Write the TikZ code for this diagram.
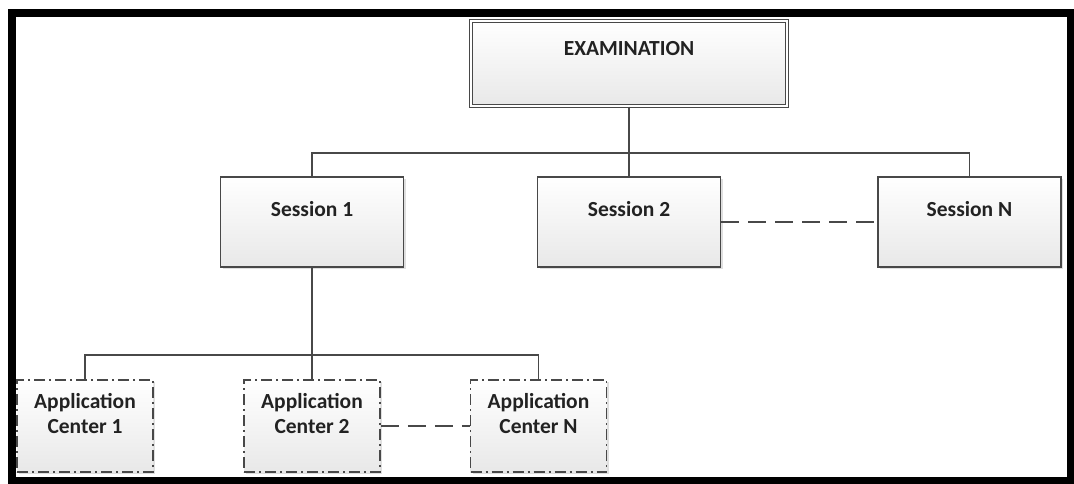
\documentclass[tikz,border=0pt]{standalone}
\usepackage{fontspec}
\setmainfont{Carlito}
\usetikzlibrary{shadows}
\definecolor{edgegray}{HTML}{484848}
\definecolor{boxbottom}{HTML}{E8E8E8}
\definecolor{labeltext}{HTML}{222222}
\begin{document}
\begin{tikzpicture}[x=1pt,y=-1pt,
  box/.style={draw=edgegray, line width=1.6pt, top color=white, bottom color=boxbottom,
    drop shadow={shadow xshift=2pt,shadow yshift=-2pt,fill=black!25,opacity=0.5},
    font=\fontsize{21.5}{25}\selectfont\bfseries, text=labeltext, inner sep=0pt},
  exambox/.style={box, double=white, double distance=2pt, line width=1pt,
    minimum width=316pt, minimum height=85pt, text height=14pt, text depth=31pt},
  sessbox/.style={box, minimum width=183pt, minimum height=90pt,
    text height=14pt, text depth=25pt},
  centerbox/.style={box, dash pattern=on 11pt off 4pt on 2pt off 4pt, align=center,
    minimum width=136pt, minimum height=92pt, text height=14pt, text depth=0pt},
  tree/.style={draw=edgegray, line width=1.6pt},
  gapline/.style={draw=edgegray, line width=1.6pt, dash pattern=on 18pt off 9pt}]
\useasboundingbox (0,0) rectangle (1074,483);

% top level
\node[exambox] (exam) at (629,63.5) {EXAMINATION};

% sessions
\node[sessbox] (sess1) at (312,222) {Session 1};
\node[sessbox] (sess2) at (629,222) {Session 2};
\node[sessbox] (sessN) at (969.5,222) {Session N};

% application centers of session 1
\node[centerbox] (ac1) at (85,426) {Application\\Center 1};
\node[centerbox] (ac2) at (312,426) {Application\\Center 2};
\node[centerbox] (acN) at (538.5,426) {Application\\Center N};

% connectors
\coordinate (topbus) at (629,153);
\coordinate (lowbus) at (312,355);
\draw[tree] (exam.south) -- (topbus);
\draw[tree] (sess1.north) |- (topbus) -| (sessN.north);
\draw[tree] (sess2.north) -- (topbus);
\draw[tree] (sess1.south) -- (lowbus);
\draw[tree] (ac1.north) |- (lowbus) -| (acN.north);
\draw[tree] (ac2.north) -- (lowbus);
\draw[gapline] (sess2.east) -- (sessN.west);
\draw[gapline] (ac2.east) -- (acN.west);

% frame
\draw[line width=8pt] (12,13) rectangle (1071,481);
\end{tikzpicture}
\end{document}
